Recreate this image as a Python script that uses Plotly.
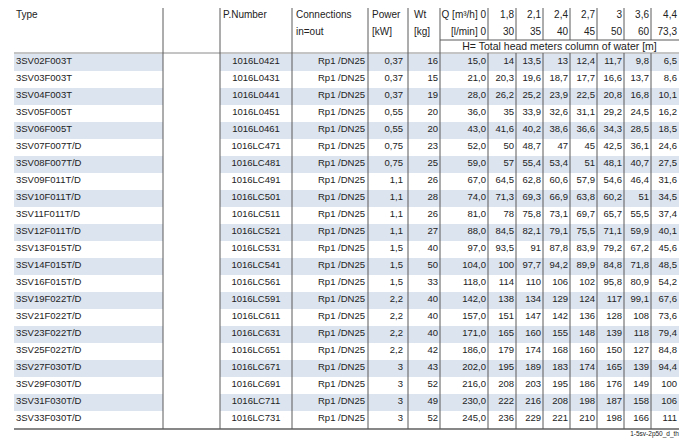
import plotly.graph_objects as go

# pump data, one entry per row
types = ["3SV02F003T", "3SV03F003T", "3SV04F003T", "3SV05F005T", "3SV06F005T",
         "3SV07F007T/D", "3SV08F007T/D", "3SV09F011T/D", "3SV10F011T/D", "3SV11F011T/D",
         "3SV12F011T/D", "3SV13F015T/D", "3SV14F015T/D", "3SV16F015T/D", "3SV19F022T/D",
         "3SV21F022T/D", "3SV23F022T/D", "3SV25F022T/D", "3SV27F030T/D", "3SV29F030T/D",
         "3SV31F030T/D", "3SV33F030T/D"]
p_numbers = ["1016L0421", "1016L0431", "1016L0441", "1016L0451", "1016L0461",
             "1016LC471", "1016LC481", "1016LC491", "1016LC501", "1016LC511",
             "1016LC521", "1016LC531", "1016LC541", "1016LC561", "1016LC591",
             "1016LC611", "1016LC631", "1016LC651", "1016LC671", "1016LC691",
             "1016LC711", "1016LC731"]
connection = "Rp1 /DN25"
power_kw = [0.37, 0.37, 0.37, 0.55, 0.55, 0.75, 0.75, 1.1, 1.1, 1.1, 1.1,
            1.5, 1.5, 1.5, 2.2, 2.2, 2.2, 2.2, 3, 3, 3, 3]
weight_kg = [16, 15, 19, 20, 20, 23, 25, 26, 28, 26, 27, 40, 50, 33, 40, 40, 40, 42, 43, 52, 49, 52]

q_m3h = [0, 1.8, 2.1, 2.4, 2.7, 3, 3.6, 4.4]
q_lmin = [0, 30, 35, 40, 45, 50, 60, 73.3]

head = [
    [15.0, 14, 13.5, 13, 12.4, 11.7, 9.8, 6.5],
    [21.0, 20.3, 19.6, 18.7, 17.7, 16.6, 13.7, 8.6],
    [28.0, 26.2, 25.2, 23.9, 22.5, 20.8, 16.8, 10.1],
    [36.0, 35, 33.9, 32.6, 31.1, 29.2, 24.5, 16.2],
    [43.0, 41.6, 40.2, 38.6, 36.6, 34.3, 28.5, 18.5],
    [52.0, 50, 48.7, 47, 45, 42.5, 36.1, 24.6],
    [59.0, 57, 55.4, 53.4, 51, 48.1, 40.7, 27.5],
    [67.0, 64.5, 62.8, 60.6, 57.9, 54.6, 46.4, 31.6],
    [74.0, 71.3, 69.3, 66.9, 63.8, 60.2, 51, 34.5],
    [81.0, 78, 75.8, 73.1, 69.7, 65.7, 55.5, 37.4],
    [88.0, 84.5, 82.1, 79.1, 75.5, 71.1, 59.9, 40.1],
    [97.0, 93.5, 91, 87.8, 83.9, 79.2, 67.2, 45.6],
    [104.0, 100, 97.7, 94.2, 89.9, 84.8, 71.8, 48.5],
    [118.0, 114, 110, 106, 102, 95.8, 80.9, 54.2],
    [142.0, 138, 134, 129, 124, 117, 99.1, 67.6],
    [157.0, 151, 147, 142, 136, 128, 108, 73.6],
    [171.0, 165, 160, 155, 148, 139, 118, 79.4],
    [186.0, 179, 174, 168, 160, 150, 127, 84.8],
    [202.0, 195, 189, 183, 174, 165, 139, 94.4],
    [216.0, 208, 203, 195, 186, 176, 149, 100],
    [230.0, 222, 216, 208, 198, 187, 158, 106],
    [245.0, 236, 229, 221, 210, 198, 166, 111],
]

footnote = "1-5sv-2p50_d_th"

# layout (pixel grid of the page); the page body has an 8px margin
W, H, PAD = 696, 446, 8
LEFT, RIGHT = 14, 679
TOP, HDR1, HDR2, HDR3 = 6, 23, 40, 53
ROW_H = 17
TYPE_R, GAP_R, PN_R, CONN_R, POW_R, WT_R = 163, 220, 292, 368, 408, 440
Q_EDGES = [488, 516, 543, 570, 597, 624, 651, RIGHT]
STRIPE = "#dce4ef"
LINE = "#5a5a5a"
TXT = "#222222"
FONT = "Liberation Sans, Arial, sans-serif"
FS = 9.5
FS_HDR = 10


def fmt(v, dec=None):
    s = f"{v:.{dec}f}" if dec is not None else f"{v:g}"
    return s.replace(".", ",")


n = len(types)
bottom = HDR3 + n * ROW_H + 2
row_y = [HDR3 + ROW_H * (i + 0.5) + 0.5 for i in range(n)]

fig = go.Figure()


def text_trace(xs, ys, texts, pos, size=FS):
    fig.add_trace(go.Scatter(
        x=xs, y=ys, text=texts, mode="text", textposition=pos,
        textfont=dict(family=FONT, size=size, color=TXT), cliponaxis=False,
        hoverinfo="skip", showlegend=False))


# body
text_trace([LEFT + 2] * n, row_y, types, "middle right")
text_trace([(GAP_R + PN_R) / 2] * n, row_y, p_numbers, "middle center")
text_trace([CONN_R - 3] * n, row_y, [connection] * n, "middle left")
text_trace([POW_R - 5] * n, row_y, [fmt(p) for p in power_kw], "middle left")
text_trace([WT_R - 2] * n, row_y, [str(w) for w in weight_kg], "middle left")
for j in range(len(q_m3h)):
    vals = [fmt(r[j], 1) if j == 0 else fmt(r[j]) for r in head]
    text_trace([Q_EDGES[j] - 2] * n, row_y, vals, "middle left")

# header
y1, y2, y3 = (TOP + HDR1) / 2 + 1, (HDR1 + HDR2) / 2 + 1, (HDR2 + HDR3) / 2 + 1
text_trace([LEFT + 2], [y1], ["Type"], "middle right", FS_HDR)
text_trace([GAP_R + 3], [y1], ["P.Number"], "middle right", FS_HDR)
text_trace([PN_R + 4, PN_R + 4], [y1, y2], ["Connections", "in=out"], "middle right", FS_HDR)
text_trace([CONN_R + 4, CONN_R + 4], [y1, y2], ["Power", "[kW]"], "middle right", FS_HDR)
text_trace([POW_R + 6, POW_R + 6], [y1, y2], ["Wt", "[kg]"], "middle right", FS_HDR)
text_trace([Q_EDGES[0] - 2, Q_EDGES[0] - 2], [y1, y2],
           ["Q [m³/h] " + fmt(q_m3h[0]), "[l/min] " + fmt(q_lmin[0])], "middle left", FS_HDR)
text_trace([e - 2 for e in Q_EDGES[1:]], [y1] * (len(q_m3h) - 1),
           [fmt(q) for q in q_m3h[1:]], "middle left", FS_HDR)
text_trace([e - 2 for e in Q_EDGES[1:]], [y2] * (len(q_lmin) - 1),
           [fmt(q) for q in q_lmin[1:]], "middle left", FS_HDR)
text_trace([(WT_R + RIGHT) / 2], [y3], ["H= Total head meters column of water [m]"],
           "middle center", 10.5)
text_trace([RIGHT], [bottom + 5], [footnote], "middle left", size=6.5)

shapes = []
# zebra stripes
for i in range(0, n, 2):
    y0 = HDR3 + ROW_H * i + 1
    for x0, x1 in [(LEFT, TYPE_R), (GAP_R, RIGHT)]:
        shapes.append(dict(type="rect", x0=x0, x1=x1, y0=y0, y1=y0 + ROW_H,
                           fillcolor=STRIPE, line_width=0, layer="below"))


def hline(y, x0, x1, color=LINE, w=1):
    shapes.append(dict(type="line", x0=x0, x1=x1, y0=y, y1=y, line=dict(color=color, width=w)))


def vline(x, y0, y1):
    shapes.append(dict(type="line", x0=x, x1=x, y0=y0, y1=y1, line=dict(color=LINE, width=1)))


hline(TOP, LEFT, RIGHT, "#111111", 1.2)
hline(HDR3, LEFT, RIGHT, "#8a8a8a", 1)
hline(HDR2, WT_R, RIGHT, LINE, 1)
hline(bottom, LEFT, RIGHT, "#111111", 1.2)
for x in [TYPE_R, GAP_R, PN_R, CONN_R, POW_R, WT_R]:
    vline(x, TOP, bottom)
for x in Q_EDGES[:-1]:
    vline(x, TOP, HDR2)
    vline(x, HDR3, bottom)

fig.update_layout(
    width=W - 2 * PAD, height=H - 2 * PAD, margin=dict(l=0, r=0, t=0, b=0),
    paper_bgcolor="white", plot_bgcolor="white",
    xaxis=dict(range=[PAD, W - PAD], visible=False, fixedrange=True),
    yaxis=dict(range=[H - PAD, PAD], visible=False, fixedrange=True),
    shapes=shapes,
)

fig.write_html("out.html")
